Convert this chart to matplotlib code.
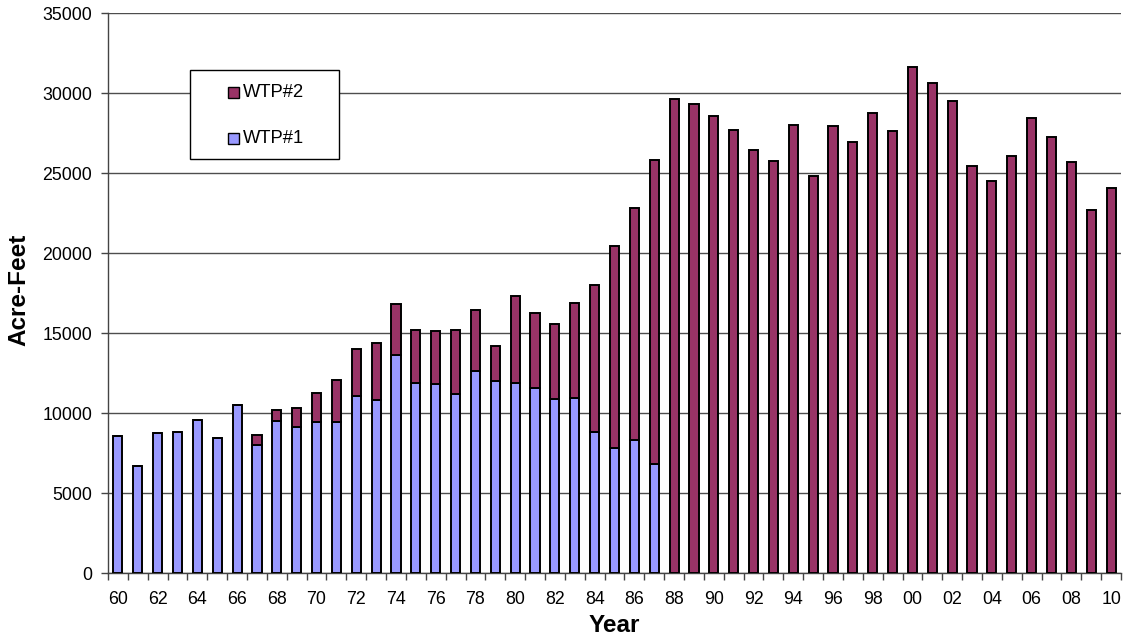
import matplotlib
matplotlib.use("Agg")
import matplotlib.pyplot as plt
from matplotlib.patches import Rectangle
import numpy as np

years = list(range(1960, 2011))
year_labels = [f"{y % 100:02d}" for y in years]

wtp1 = [8580, 6710, 8770, 8810, 9560, 8460, 10500, 8000, 9500, 9120,
        9440, 9440, 11060, 10820, 13650, 11900, 11790, 11210, 12630, 12020,
        11900, 11580, 10900, 10960, 8830, 7830, 8330, 6790] + [0] * 23

totals = [8580, 6710, 8770, 8810, 9560, 8460, 10500, 8625, 10210, 10310,
          11270, 12050, 14030, 14375, 16810, 15170, 15150, 15210, 16420, 14170,
          17330, 16270, 15580, 16880, 18000, 20420, 22830, 25790, 29650, 29330,
          28540, 27710, 26420, 25770, 28020, 24790, 27960, 26940, 28730, 27650,
          31600, 30640, 29480, 25440, 24520, 26080, 28460, 27230, 25670, 22710,
          24060]

wtp2 = [t - a for t, a in zip(totals, wtp1)]

series_names = ["WTP#2", "WTP#1"]
c1 = "#9999FF"
c2 = "#993366"

plt.rcParams['font.family'] = ['Liberation Sans', 'DejaVu Sans']

W, H = 1126, 643
fig = plt.figure(figsize=(W / 100, H / 100), dpi=100)
ax = fig.add_axes([108 / W, 70 / H, (1121 - 108) / W, (573 - 13) / H])

x = np.arange(len(years))
bw = 0.46
ax.bar(x, wtp1, width=bw, color=c1, edgecolor="black", linewidth=1.4, zorder=3)
ax.bar(x, wtp2, width=bw, bottom=wtp1, color=c2, edgecolor="black", linewidth=1.4, zorder=3)

ax.set_xlim(-0.5, len(years) - 0.5)
ax.set_ylim(0, 35000)
ax.set_yticks(np.arange(0, 35001, 5000))
ax.yaxis.grid(True, color="#4d4d4d", linewidth=1.0, zorder=0)
ax.set_axisbelow(True)

# category ticks between bars, labels every 2 years
ax.set_xticks(np.arange(-0.5, len(years), 1.0), minor=False)
ax.set_xticklabels([])
ax.set_xticks(x[::2], minor=True)
ax.set_xticklabels(year_labels[::2], minor=True, fontsize=12.8)
ax.tick_params(axis='x', which='major', length=5, width=1, color="#444444", direction='out')
ax.tick_params(axis='x', which='minor', length=0, pad=13)
ax.tick_params(axis='y', length=5, width=1, color="#444444", labelsize=12.8, pad=6.5)

for s in ["top", "right"]:
    ax.spines[s].set_visible(False)
for s in ["left", "bottom"]:
    ax.spines[s].set_color("#444444")
    ax.spines[s].set_linewidth(1.0)

fig.text(614 / W, 1 - 626 / H, "Year", ha="center", va="center",
         fontsize=17.5, fontweight="bold")
fig.text(19 / W, 1 - 290 / H, "Acre-Feet", ha="center", va="center",
         rotation=90, fontsize=17.5, fontweight="bold")

# legend box (drawn in figure pixel space)
def fx(px):
    return px / W

def fy(py):
    return 1 - py / H

fig.patches.append(Rectangle((fx(190), fy(159)), fx(339) - fx(190), fy(70) - fy(159),
                             transform=fig.transFigure, facecolor="white",
                             edgecolor="black", linewidth=1.0, zorder=5))
for name, col, cy in zip(series_names, [c2, c1], [92.7, 138.3]):
    fig.patches.append(Rectangle((fx(228), fy(cy + 5.5)), fx(239) - fx(228), fy(cy - 5.5) - fy(cy + 5.5),
                                 transform=fig.transFigure, facecolor=col,
                                 edgecolor="black", linewidth=1.0, zorder=6))
    fig.text(fx(243), fy(cy), name, ha="left", va="center", fontsize=13.2, zorder=6)

fig.savefig("out.png", dpi=100)
